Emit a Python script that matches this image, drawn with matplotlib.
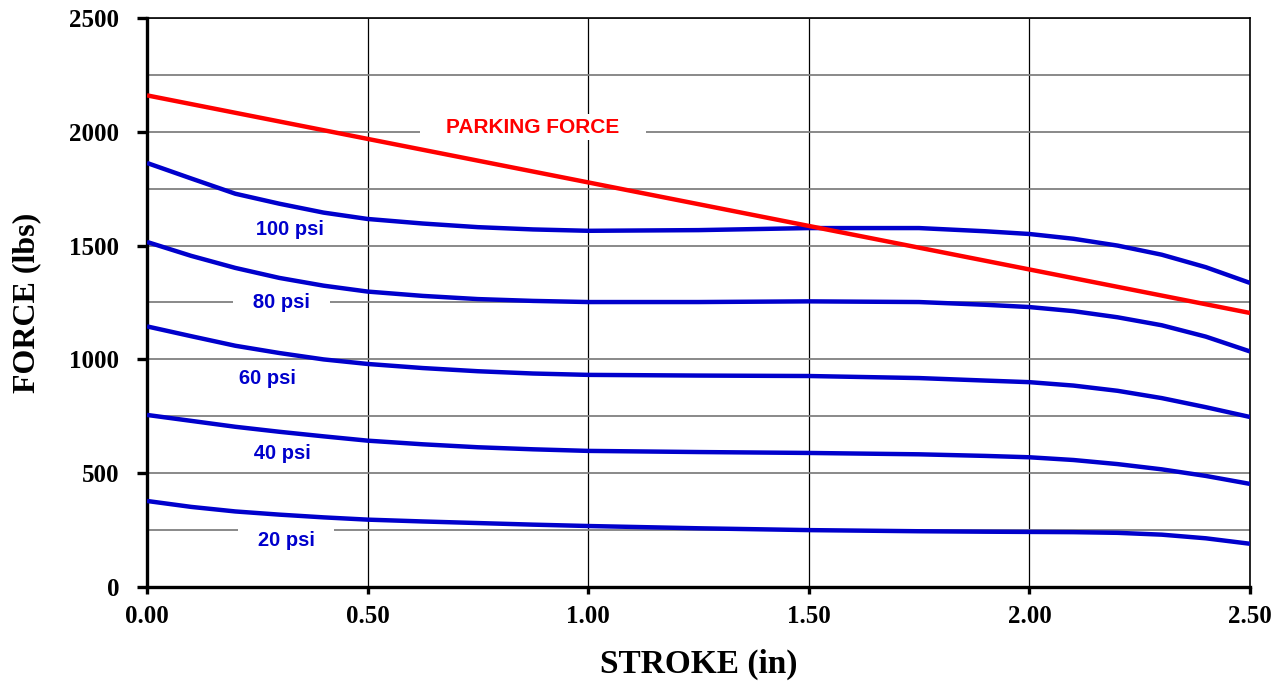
import matplotlib
matplotlib.use("Agg")
import matplotlib.pyplot as plt
from matplotlib.ticker import MultipleLocator

stroke = [0.0, 0.1, 0.2, 0.3, 0.4, 0.5, 0.625, 0.75, 0.875, 1.0,
          1.25, 1.5, 1.75, 1.9, 2.0, 2.1, 2.2, 2.3, 2.4, 2.5]

# actuator force (lbs) per supply pressure
force_100 = [1863, 1795, 1728, 1684, 1645, 1617, 1597, 1581, 1571, 1565,
             1568, 1577, 1577, 1563, 1551, 1530, 1500, 1460, 1405, 1336]
force_80 = [1516, 1455, 1402, 1358, 1324, 1298, 1279, 1265, 1257, 1252,
            1252, 1255, 1252, 1240, 1230, 1212, 1185, 1150, 1100, 1035]
force_60 = [1145, 1102, 1060, 1028, 1000, 980, 962, 948, 938, 932,
            929, 927, 918, 907, 900, 885, 862, 830, 790, 747]
force_40 = [756, 730, 704, 682, 662, 643, 627, 614, 605, 598,
            593, 589, 583, 576, 570, 558, 540, 517, 488, 453]
force_20 = [378, 352, 332, 318, 306, 296, 288, 281, 274, 268,
            258, 250, 245, 243, 242, 241, 238, 230, 214, 190]

# parking spring force (straight line)
park_x = [0.0, 2.5]
park_y = [2160, 1204]

pressures = ["100 psi", "80 psi", "60 psi", "40 psi", "20 psi"]
curves = [force_100, force_80, force_60, force_40, force_20]
# label anchor points (x, y) in data units
label_pos = [(0.324, 1570), (0.304, 1252), (0.272, 915), (0.306, 587), (0.315, 206)]

BLUE = "#0000CC"
RED = "#FF0000"

fig = plt.figure(figsize=(12.84, 6.84), dpi=100)
ax = fig.add_axes([0.1145, 0.1418, 0.859, 0.8319])

for ys in curves:
    ax.plot(stroke, ys, color=BLUE, lw=3.2, solid_capstyle="butt",
            solid_joinstyle="round", zorder=3)
ax.plot(park_x, park_y, color=RED, lw=3.2, solid_capstyle="butt", zorder=4)

box = dict(boxstyle="square,pad=0.15", fc="white", ec="none")
for name, (lx, ly) in zip(pressures, label_pos):
    ax.text(lx, ly, "   " + name + "   ", color=BLUE, fontsize=14.5,
            fontweight="bold", family="Liberation Sans",
            ha="center", va="center", bbox=box, zorder=2)
ax.text(0.875, 2021, "    PARKING FORCE    ", color=RED, fontsize=15,
        fontweight="bold", family="Liberation Sans",
        ha="center", va="center", bbox=box, zorder=2)

ax.set_xlim(0, 2.5)
ax.set_ylim(0, 2500)
ax.xaxis.set_major_locator(MultipleLocator(0.5))
ax.yaxis.set_major_locator(MultipleLocator(500))
ax.yaxis.set_minor_locator(MultipleLocator(250))
ax.xaxis.set_major_formatter(plt.FuncFormatter(lambda v, p: f"{v:.2f}"))

# grid: black verticals, gray horizontals
ax.grid(axis="x", which="major", color="black", lw=0.9, zorder=1)
ax.grid(axis="y", which="both", color="#808080", lw=1.3, zorder=1)
ax.set_axisbelow(True)

for side in ["left", "bottom"]:
    ax.spines[side].set_linewidth(2.4)
for side in ["top", "right"]:
    ax.spines[side].set_linewidth(1.2)

ax.tick_params(axis="y", which="major", direction="out", length=7, width=2.4, pad=13)
ax.tick_params(axis="y", which="minor", length=0)
ax.tick_params(axis="x", which="major", direction="out", length=5, width=2.4, pad=8)

for lbl in ax.get_xticklabels() + ax.get_yticklabels():
    lbl.set_family("Liberation Serif")
    lbl.set_fontweight("bold")
    lbl.set_fontsize(18)

ax.set_xlabel("STROKE (in)", family="Liberation Serif", fontweight="bold",
              fontsize=24, labelpad=15)
ax.set_ylabel("FORCE (lbs)", family="Liberation Serif", fontweight="bold",
              fontsize=23, labelpad=20)

fig.savefig("out.png", dpi=100)
